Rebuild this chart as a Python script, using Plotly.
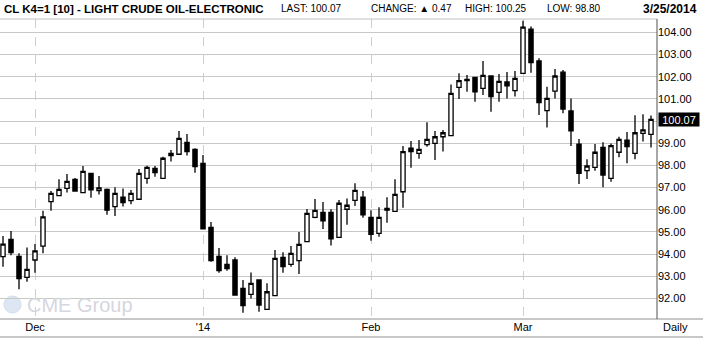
import pandas as pd
import plotly.graph_objects as go

# ---- data ----
holidays = ["2013-11-28", "2013-12-25", "2014-01-01", "2014-01-20", "2014-02-17"]
dates = [d.strftime("%Y-%m-%d") for d in pd.bdate_range("2013-11-25", "2014-03-25")
         if d.strftime("%Y-%m-%d") not in holidays]

opens = [93.88, 94.66, 93.89, 92.95, 93.73, 94.36, 96.36, 96.63, 96.96, 97.37,
         96.77, 97.64, 96.86, 96.92, 96.14, 96.56, 96.41, 96.47, 97.41, 97.86,
         97.41, 98.54, 98.50, 99.04, 98.72, 98.09, 95.20, 93.89, 93.53, 93.73,
         92.45, 92.18, 92.83, 91.50, 92.12, 93.85, 93.53, 93.70, 94.56, 95.65,
         95.88, 95.88, 94.75, 96.02, 96.42, 96.56, 95.65, 94.93, 96.06, 95.92,
         96.81, 98.77, 98.54, 98.93, 98.99, 99.29, 99.34, 101.52, 101.88, 101.97,
         101.47, 102.03, 101.29, 101.76, 101.37, 102.15, 104.14, 102.71, 100.47, 101.35,
         102.20, 100.45, 98.96, 97.76, 97.91, 98.81, 97.41, 98.59, 99.14, 98.54,
         99.44, 99.40]
highs = [94.81, 95.04, 94.03, 94.30, 94.45, 95.95, 96.84, 97.37, 97.61, 97.43,
         97.97, 97.67, 97.52, 96.96, 97.01, 96.96, 96.89, 97.83, 97.98, 97.97,
         98.39, 98.69, 99.55, 99.41, 98.77, 98.47, 95.44, 94.27, 93.95, 93.85,
         92.83, 93.17, 92.83, 92.68, 94.18, 94.08, 94.36, 94.99, 96.03, 96.48,
         96.35, 96.02, 96.44, 96.51, 97.19, 96.84, 95.98, 96.11, 96.56, 97.37,
         98.87, 99.10, 99.14, 99.94, 99.55, 99.59, 101.65, 102.15, 102.08, 102.00,
         102.71, 102.03, 102.12, 102.21, 102.26, 104.52, 104.26, 102.83, 101.55, 102.35,
         102.30, 101.02, 99.19, 98.27, 98.96, 99.04, 98.99, 99.29, 99.50, 100.26,
         100.30, 100.25]
lows = [93.43, 93.95, 92.41, 92.75, 93.16, 94.03, 95.95, 96.63, 96.77, 96.81,
        96.77, 96.54, 96.68, 95.77, 95.71, 96.14, 96.24, 96.44, 97.17, 97.49,
        97.41, 98.17, 98.48, 98.44, 97.67, 95.12, 93.65, 93.16, 93.25, 92.15,
        91.35, 92.00, 91.40, 91.50, 92.12, 93.16, 93.43, 93.10, 94.56, 95.61,
        95.13, 94.38, 94.75, 95.32, 96.17, 95.64, 94.60, 94.78, 95.41, 95.92,
        96.09, 97.89, 98.30, 98.84, 98.24, 98.62, 99.34, 100.99, 101.32, 100.87,
        101.17, 100.42, 100.87, 101.02, 101.10, 102.15, 102.18, 100.27, 99.71, 101.02,
        100.35, 98.87, 97.16, 97.38, 97.76, 97.01, 97.26, 98.36, 98.09, 98.27,
        99.07, 98.80]
closes = [94.45, 94.06, 92.89, 93.31, 94.14, 95.68, 96.74, 96.92, 97.28, 96.84,
          97.73, 96.90, 96.98, 95.98, 96.74, 96.32, 96.74, 97.64, 97.91, 97.67,
          98.32, 98.44, 99.22, 98.62, 97.94, 95.14, 93.70, 93.25, 93.34, 92.15,
          91.67, 92.68, 91.70, 92.30, 93.80, 93.43, 94.03, 94.44, 95.83, 95.97,
          95.50, 94.68, 96.29, 96.20, 96.87, 95.77, 94.89, 95.65, 95.98, 96.69,
          98.62, 98.62, 98.72, 99.17, 99.29, 99.47, 101.25, 101.82, 101.82, 101.32,
          102.06, 101.10, 101.79, 101.59, 101.92, 104.23, 102.63, 100.83, 101.02, 102.03,
          100.54, 99.56, 97.64, 97.97, 98.59, 97.56, 98.89, 99.17, 98.84, 99.47,
          99.60, 100.07]

y_ticks = [92, 93, 94, 95, 96, 97, 98, 99, 100, 101, 102, 103, 104]
x_tick_dates = ["2013-12-02", "2014-01-02", "2014-02-03", "2014-03-03"]
x_tick_labels = ["Dec", "'14", "Feb", "Mar"]
title_text = "CL K4=1 [10] - LIGHT CRUDE OIL-ELECTRONIC"
last_price = 100.07

# ---- figure ----
W, H = 703, 341
L, R, T, B = 0, 46, 19, 22
PW, PH = W - L - R, H - T - B

def px(x):
    return (x - L) / PW

def py(y):
    return (H - B - y) / PH

fig = go.Figure()
fig.add_trace(go.Candlestick(
    x=dates, open=opens, high=highs, low=lows, close=closes,
    increasing=dict(fillcolor="white", line=dict(color="black", width=1.3)),
    decreasing=dict(fillcolor="black", line=dict(color="black", width=1.3)),
    whiskerwidth=0, hoverinfo="skip", showlegend=False,
))

# the 100.00 label is hidden behind the last-price box in the reference
y_ticktext = ["" if abs(v - last_price) < 0.5 else f"{v:.2f}" for v in y_ticks]

n = len(dates)
fig.update_layout(
    width=W, height=H, margin=dict(l=L, r=R, t=T, b=B),
    paper_bgcolor="white", plot_bgcolor="white",
    font=dict(family="Liberation Sans, Arial, sans-serif", size=11, color="black"),
    boxgap=0.25,
    xaxis=dict(
        type="category", range=[-0.375, n - 0.25],
        rangeslider=dict(visible=False),
        tickmode="array", tickvals=x_tick_dates, ticktext=x_tick_labels,
        showgrid=True, gridcolor="#d6c8d6", griddash="dash", gridwidth=1,
        ticks="", showline=False, zeroline=False, tickfont=dict(size=11),
    ),
    yaxis=dict(
        side="right", range=[91.07, 104.6],
        tickmode="array", tickvals=y_ticks, ticktext=y_ticktext,
        showgrid=True, gridcolor="#c6cac4", gridwidth=1,
        ticks="", showline=False, zeroline=False, tickfont=dict(size=11),
    ),
)

shapes = []
shapes.append(dict(type="line", xref="paper", yref="paper", x0=0, x1=1, y0=1, y1=1,
                   line=dict(color="#c0c0c0", width=1)))
shapes.append(dict(type="line", xref="paper", yref="paper", x0=0, x1=px(W), y0=0, y1=0,
                   line=dict(color="#909090", width=1)))
shapes.append(dict(type="line", xref="paper", yref="paper", x0=0, x1=px(W), y0=py(337), y1=py(337),
                   line=dict(color="#909090", width=1)))
shapes.append(dict(type="line", xref="paper", yref="paper", x0=1, x1=1, y0=0, y1=1,
                   line=dict(color="#505050", width=1)))
shapes.append(dict(type="circle", xref="paper", yref="paper", x0=px(4), x1=px(21), y0=py(313), y1=py(296),
                   fillcolor="#dde6f2", line=dict(color="#d0dcec", width=1), layer="below"))
fig.update_layout(shapes=shapes)

ann = []
ann.append(dict(text="CME Group", x=px(25), y=py(305), xref="paper", yref="paper", xanchor="left",
                yanchor="middle", showarrow=False, font=dict(size=20, color="#d6d6de", family="Liberation Sans")))
ann.append(dict(text="<b>" + title_text + "</b>", x=px(2), y=py(9), xref="paper", yref="paper",
                xanchor="left", yanchor="middle", showarrow=False, font=dict(size=11.5)))
hdr = [("LAST: 100.07", 279), ("CHANGE: ▲ 0.47", 369), ("HIGH: 100.25", 463), ("LOW: 98.80", 545)]
for t, x in hdr:
    ann.append(dict(text=t, x=px(x), y=py(9), xref="paper", yref="paper", xanchor="left",
                    yanchor="middle", showarrow=False, font=dict(size=10)))
ann.append(dict(text="<b>3/25/2014</b>", x=px(699), y=py(9), xref="paper", yref="paper",
                xanchor="right", yanchor="middle", showarrow=False, font=dict(size=12)))
ann.append(dict(text="Daily", x=px(661), y=py(327), xref="paper", yref="paper", xanchor="left",
                yanchor="middle", showarrow=False, font=dict(size=11)))
ann.append(dict(text=f"{last_price:.2f}", x=px(658), y=last_price, xref="paper", yref="y",
                xanchor="left", yanchor="middle", showarrow=False, bgcolor="black",
                font=dict(size=11, color="white"), width=40, height=13, borderpad=0))
fig.update_layout(annotations=ann)

fig.write_html("out.html")
